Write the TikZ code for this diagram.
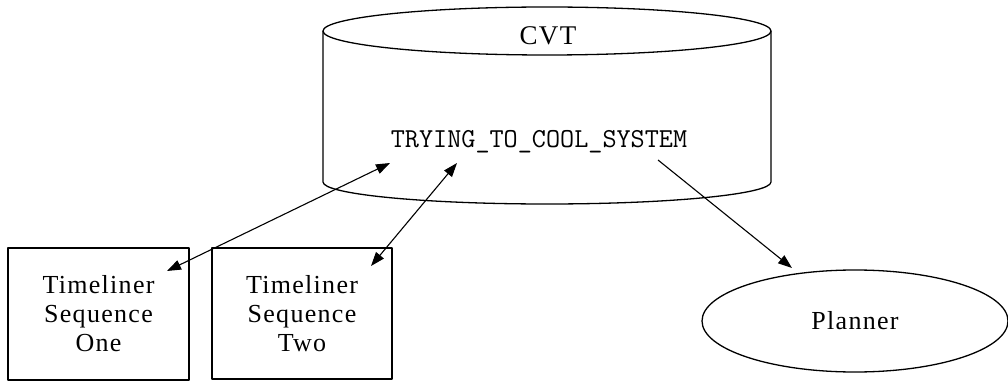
\documentclass[tikz,border=0pt]{standalone}
\usepackage{fontspec}
\setmainfont{Liberation Serif}[LetterSpace=5]
\usetikzlibrary{arrows.meta,shapes.geometric}

\tikzset{
  line/.style={line width=1.3pt, line join=round},
  seqbox/.style={line, draw, rectangle, minimum width=180pt, minimum height=131pt,
                 inner sep=0pt, align=center, font=\fontsize{26}{29}\selectfont},
  planbox/.style={line, draw, ellipse, minimum width=306pt, minimum height=102pt,
                  inner sep=0pt, font=\fontsize{26}{30}\selectfont},
  link/.style={line width=1.1pt},
  head/.style={-{Triangle[length=14pt,width=10pt]}},
  heads/.style={{Triangle[length=14pt,width=10pt]}-{Triangle[length=14pt,width=10pt]}},
}

\begin{document}
\begin{tikzpicture}[x=1pt,y=1pt]
  % page frame
  \fill[white] (0,0) rectangle (1008,383);
  \useasboundingbox (0,0) rectangle (1008,383);

  % CVT store drawn as a cylinder
  \draw[line] (547,352) ellipse [x radius=224, y radius=24];
  \draw[line] (323,352) -- (323,201)
              arc [start angle=180, end angle=360, x radius=224, y radius=22]
              -- (771,352);
  \node[font=\fontsize{27}{30}\selectfont] (cvt) at (548,347) {CVT};
  \node[font=\ttfamily\fontsize{27.4}{30}\selectfont] (state) at (539,241)
       {TRYING\_TO\_COOL\_SYSTEM};

  % sequences and planner
  \node[seqbox, minimum width=181pt, minimum height=132pt] (one) at (98.5,69)
       {Timeliner\\Sequence\\One};
  \node[seqbox] (two) at (302,69.5) {Timeliner\\Sequence\\Two};
  \node[planbox] (planner) at (855,62) {Planner};

  % connector end points
  \coordinate (s1) at (390,220);
  \coordinate (s2) at (457,220);
  \coordinate (s3) at (658,223);
  \coordinate (e1) at (167,112);
  \coordinate (e2) at (371,117);
  \coordinate (e3) at (792,115);

  \draw[link, heads] (e1) -- (s1);
  \draw[link, heads] (e2) -- (s2);
  \draw[link, head] (s3) -- (e3);
\end{tikzpicture}
\end{document}
